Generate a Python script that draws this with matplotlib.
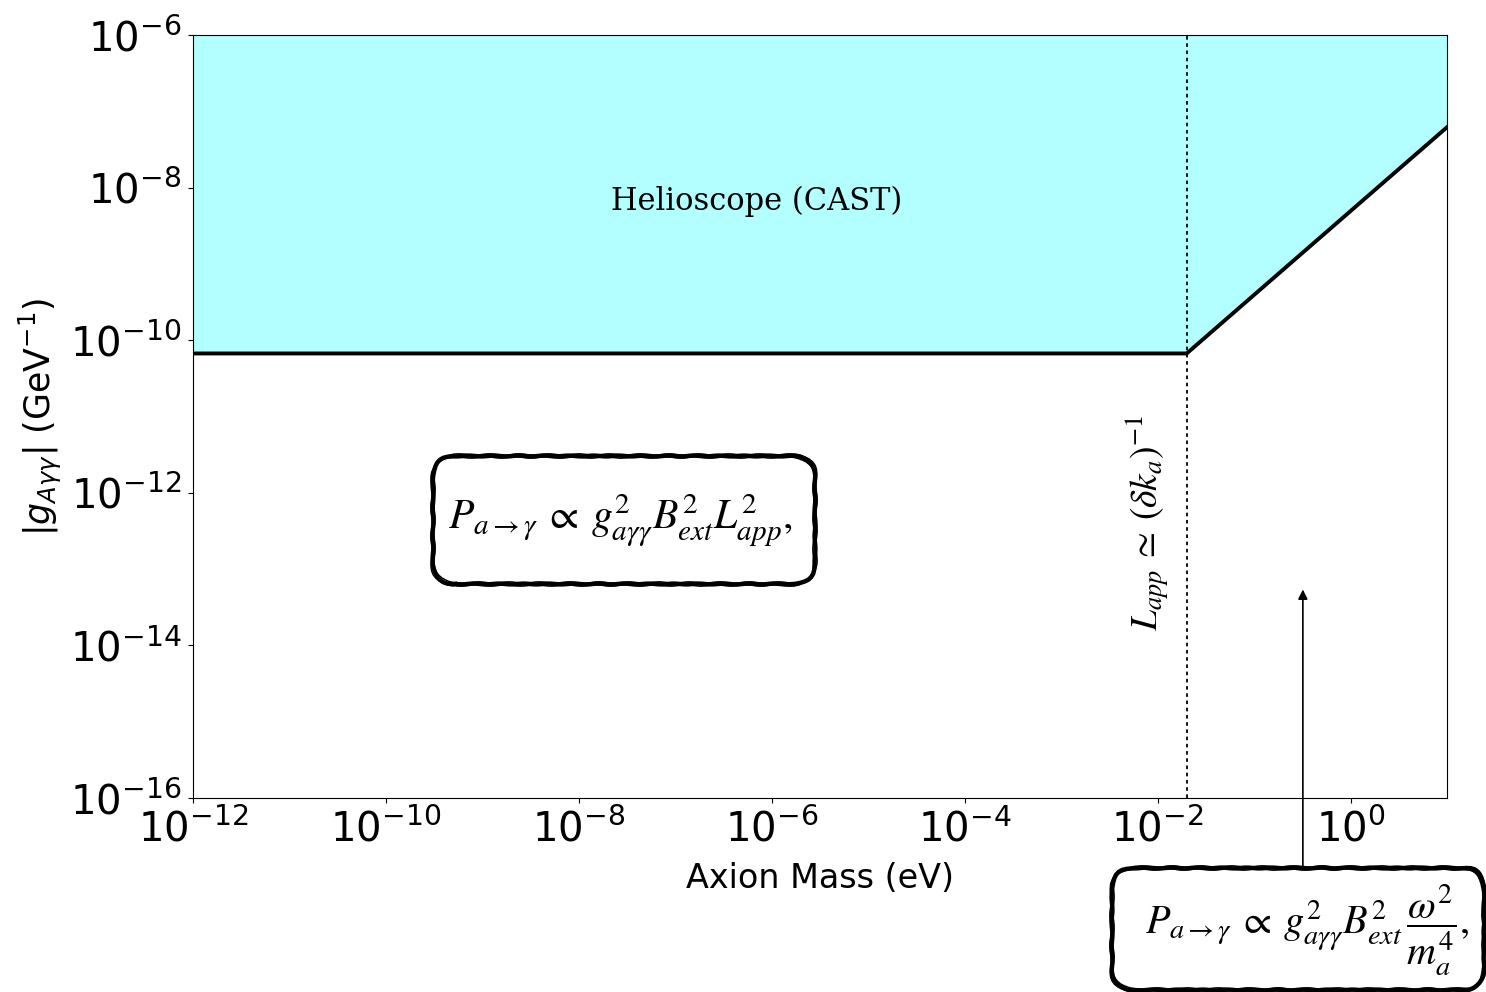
import matplotlib
matplotlib.use("Agg")
import matplotlib.pyplot as plt
from matplotlib.patches import FancyBboxPatch

# CAST helioscope limit
mass_eV = [1e-12, 2e-2, 1e1]
g_limit = [6.7e-11, 6.7e-11, 6.2e-8]
g_top = 1e-6
coherence_mass = 2e-2

plt.rcParams["mathtext.fontset"] = "stix"

W, H = 1486, 992
fig = plt.figure(figsize = (W / 100, H / 100), dpi = 100)
ax = fig.add_axes([0.1299, 0.1956, 0.8439, 0.7691])

ax.fill_between(mass_eV, g_limit, g_top, color = (0.7, 1.0, 1.0), lw = 0)
ax.plot(mass_eV, g_limit, color = "black", lw = 2.8)
ax.axvline(coherence_mass, color = "black", ls = (0, (2, 2)), lw = 1.3)

ax.set_xscale("log")
ax.set_yscale("log")
ax.set_xlim(1e-12, 1e1)
ax.set_ylim(1e-16, 1e-6)
ax.tick_params(labelsize = 29, pad = 5)
ax.set_xlabel("Axion Mass (eV)", fontsize = 24, labelpad = 8)
ax.set_ylabel(r"$|g_{A\gamma\gamma}|$ (GeV$^{-1}$)", fontsize = 25,
              family = "DejaVu Sans", math_fontfamily = "dejavusans")

ax.text(7e-7, 6.5e-9, "Helioscope (CAST)", ha = "center", va = "center",
        fontsize = 22, family = "DejaVu Serif")

ax.text(coherence_mass * 0.4, 4e-13, r"$L_{app} \:\simeq\: (\delta k_a)^{-1}$",
        rotation = 90, ha = "center", va = "center", fontsize = 27)


def sketch_box(x0, y0, x1, y1):
    # hand-drawn looking rounded box, given in figure pixels from top-left
    strokes = [(0, 0, 3.2, (0.4, 25, 1)),
               (1.5, -1.5, 1.0, (0.7, 30, 1)),
               (-1.5, 1.5, 1.0, (0.7, 30, 1))]
    for dx, dy, lw, sk in strokes:
        p = FancyBboxPatch(((x0 + dx) / W, 1 - (y1 + dy) / H),
                           (x1 - x0) / W, (y1 - y0) / H,
                           boxstyle = "round,pad=0,rounding_size=%f" % (22 / W),
                           mutation_aspect = W / H,
                           transform = fig.transFigure, fc = "none",
                           ec = "black", lw = lw, clip_on = False, zorder = 5)
        p.set_sketch_params(*sk)
        fig.add_artist(p)


sketch_box(433, 456, 815, 584)
fig.text(620 / W, 1 - 520 / H,
         r"$P_{a\to\gamma}\:\propto\: g^2_{a\gamma\gamma}B^2_{ext}L^2_{app},$",
         ha = "center", va = "center", fontsize = 30)

sketch_box(1112, 868, 1484, 990)
fig.text(1307 / W, 1 - 930 / H,
         r"$P_{a\to\gamma}\:\propto\: g^2_{a\gamma\gamma}B^2_{ext}\,\dfrac{\omega^2}{m_a^4},$",
         ha = "center", va = "center", fontsize = 29)

ax.annotate("", xy = (0.32, 5.4e-14), xycoords = "data",
            xytext = (0.32, 1 - 868 / H), textcoords = ("data", "figure fraction"),
            arrowprops = dict(arrowstyle = "-|>", color = "black", lw = 1.2,
                              mutation_scale = 14, shrinkA = 0, shrinkB = 0),
            annotation_clip = False)

fig.savefig("out.png", dpi = 100)
